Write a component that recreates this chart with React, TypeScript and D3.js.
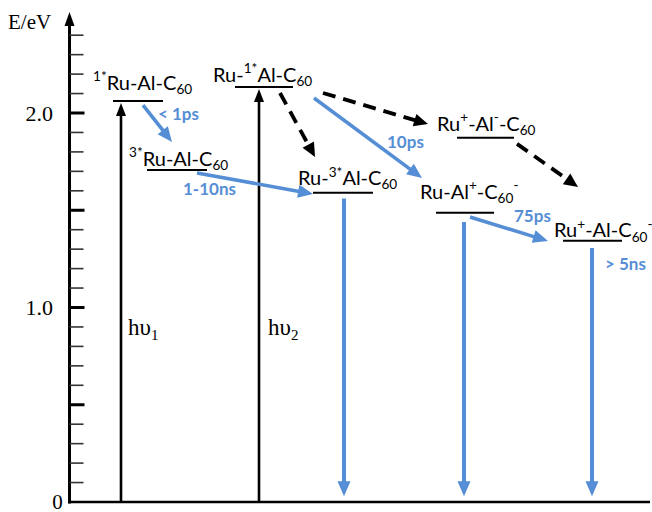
import React from "react";
import * as d3 from "d3";

const W = 652;
const H = 512;

// Energy axis
const yDomain = [0, 2.0];
const majorTicks = [0.5, 1.0, 1.5, 2.0];
const minorTicks = d3.range(1, 25).map((i) => i / 10);
const tickLabels = [
  { v: 2.0, t: "2.0" },
  { v: 1.0, t: "1.0" },
];

// Energy levels
type Part = { t: string; k?: "sup" | "sub" };
const levelNames: Part[][] = [
  [{ t: "1*", k: "sup" }, { t: "Ru-Al-C" }, { t: "60", k: "sub" }],
  [{ t: "Ru-" }, { t: "1*", k: "sup" }, { t: "Al-C" }, { t: "60", k: "sub" }],
  [{ t: "3*", k: "sup" }, { t: "Ru-Al-C" }, { t: "60", k: "sub" }],
  [{ t: "Ru-" }, { t: "3*", k: "sup" }, { t: "Al-C" }, { t: "60", k: "sub" }],
  [{ t: "Ru" }, { t: "+", k: "sup" }, { t: "-Al" }, { t: "-", k: "sup" }, { t: "-C" }, { t: "60", k: "sub" }],
  [{ t: "Ru-Al" }, { t: "+", k: "sup" }, { t: "-C" }, { t: "60", k: "sub" }, { t: "-", k: "sup" }],
  [{ t: "Ru" }, { t: "+", k: "sup" }, { t: "-Al-C" }, { t: "60", k: "sub" }, { t: "-", k: "sup" }],
];
const levelEnergy = [2.062, 2.134, 1.707, 1.59, 1.873, 1.487, 1.343];
const levelX0 = [113, 235, 147, 313, 457, 436, 563];
const levelX1 = [163, 293, 207, 373, 514, 494, 622];
const labelX = [93, 213, 129, 298, 437, 420, 554];
const labelE = [2.12, 2.16, 1.73, 1.63, 1.91, 1.56, 1.36];

// Excitation (black, upward)
const excX = [121, 259];
const excTop = [2.062, 2.134];
const excLabel = ["1", "2"];
const excLabelX = [128, 268];
const excLabelE = 0.86;

// Decays (blue, downward)
const decayX = [344, 464, 592];
const decayFrom = [1.561, 1.44, 1.306];
const decayTo = 0.03;

// Blue transfer arrows: [x0,E0,x1,E1]
const blueArrows = [
  [143, 2.041, 172, 1.851],
  [197, 1.692, 313, 1.584],
  [314, 2.077, 422, 1.666],
  [470, 1.465, 548, 1.342],
];
const blueLabels = ["< 1ps", "1-10ns", "10ps", "75ps", "> 5ns"];
const blueLabelX = [158, 183, 387, 514, 605];
const blueLabelE = [1.964, 1.576, 1.82, 1.44, 1.193];

// Dashed black arrows
const dashArrows = [
  [280, 2.103, 315, 1.774],
  [323, 2.103, 428, 1.943],
  [517, 1.841, 578, 1.62],
];

const BLUE = "#558ed5";
const SANS = "Lato, 'Open Sans', sans-serif";
const SERIF = "'Liberation Serif', 'DejaVu Serif', serif";

function Arrow({
  x0, y0, x1, y1, color, width, headLen, headW, dash,
}: {
  x0: number; y0: number; x1: number; y1: number; color: string;
  width: number; headLen: number; headW: number; dash?: string;
}) {
  const dx = x1 - x0;
  const dy = y1 - y0;
  const L = Math.hypot(dx, dy);
  const ux = dx / L;
  const uy = dy / L;
  const bx = x1 - ux * headLen;
  const by = y1 - uy * headLen;
  const px = -uy * headW / 2;
  const py = ux * headW / 2;
  return (
    <g>
      <line x1={x0} y1={y0} x2={bx + ux * 1} y2={by + uy * 1} stroke={color} strokeWidth={width} strokeDasharray={dash} />
      <polygon points={`${x1},${y1} ${bx + px},${by + py} ${bx - px},${by - py}`} fill={color} />
    </g>
  );
}

function Label({ parts, x, y, size }: { parts: Part[]; x: number; y: number; size: number }) {
  const small = size * 0.68;
  let prev: string | undefined = undefined;
  return (
    <text x={x} y={y} fontFamily={SANS} fontSize={size} fill="#000">
      {parts.map((p, i) => {
        const cur = p.k;
        const off = (k?: string) => (k === "sup" ? -size * 0.42 : k === "sub" ? size * 0.22 : 0);
        const dy = off(cur) - off(prev);
        prev = cur;
        return (
          <tspan key={i} dy={dy} fontSize={cur ? small : size}>
            {p.t}
          </tspan>
        );
      })}
    </text>
  );
}

export default function App() {
  const y = d3.scaleLinear().domain(yDomain).range([502, 113]);
  const x = d3.scaleLinear().domain([0, W]).range([0, W]);
  const axisX = x(69.5);

  return (
    <svg width={W} height={H} style={{ position: "absolute", left: 0, top: 0, background: "#fff" }}>
      {/* axes */}
      <line x1={axisX} y1={y(0) + 1.5} x2={axisX} y2={24} stroke="#000" strokeWidth={3} />
      <polygon points={`${axisX},12 ${axisX - 5},26 ${axisX + 5},26`} fill="#000" />
      <line x1={axisX - 1.5} y1={y(0)} x2={x(650)} y2={y(0)} stroke="#000" strokeWidth={2.5} />
      {minorTicks.map((v) => {
        const major = majorTicks.some((m) => Math.abs(m - v) < 1e-6);
        return (
          <line key={v} x1={axisX} x2={axisX + (major ? 15 : 14)} y1={y(v)} y2={y(v)}
            stroke={major ? "#000" : "#333"} strokeWidth={major ? 3 : 1.6} />
        );
      })}
      {tickLabels.map((d) => (
        <text key={d.t} x={53} y={y(d.v) + 7.5} textAnchor="end" fontFamily={SERIF} fontSize={22}>{d.t}</text>
      ))}
      <text x={57.5} y={509} textAnchor="middle" fontFamily={SERIF} fontSize={21}>0</text>
      <text x={8} y={29} fontFamily={SERIF} fontSize={21}>E/eV</text>

      {/* excitation arrows */}
      {excX.map((ex, i) => (
        <g key={i}>
          <Arrow x0={x(ex)} y0={y(0)} x1={x(ex)} y1={y(excTop[i]) + 2} color="#000" width={2.6} headLen={13} headW={10} />
          <text x={excLabelX[i]} y={y(excLabelE)} fontFamily={SERIF} fontSize={23}>
            hυ<tspan fontSize={15} dy={5}>{excLabel[i]}</tspan>
          </text>
        </g>
      ))}

      {/* decay arrows */}
      {decayX.map((dx, i) => (
        <Arrow key={i} x0={x(dx)} y0={y(decayFrom[i])} x1={x(dx)} y1={y(decayTo)} color={BLUE} width={4} headLen={15} headW={13} />
      ))}

      {/* levels */}
      {levelEnergy.map((e, i) => (
        <line key={i} x1={x(levelX0[i])} x2={x(levelX1[i])} y1={y(e)} y2={y(e)} stroke="#000" strokeWidth={2} />
      ))}
      {levelNames.map((parts, i) => (
        <Label key={i} parts={parts} x={x(labelX[i])} y={y(labelE[i])} size={20} />
      ))}

      {/* blue transfer arrows */}
      {blueArrows.map((a, i) => (
        <Arrow key={i} x0={x(a[0])} y0={y(a[1])} x1={x(a[2])} y1={y(a[3])} color={BLUE} width={3.6} headLen={15} headW={13} />
      ))}
      {blueLabels.map((t, i) => (
        <text key={t} x={blueLabelX[i]} y={y(blueLabelE[i])} fontFamily={SANS} fontWeight={700} fontSize={17} fill={BLUE}>{t}</text>
      ))}

      {/* dashed arrows */}
      {dashArrows.map((a, i) => (
        <Arrow key={i} x0={x(a[0])} y0={y(a[1])} x1={x(a[2])} y1={y(a[3])} color="#000" width={3.8} headLen={14} headW={13} dash="13 8" />
      ))}
    </svg>
  );
}
